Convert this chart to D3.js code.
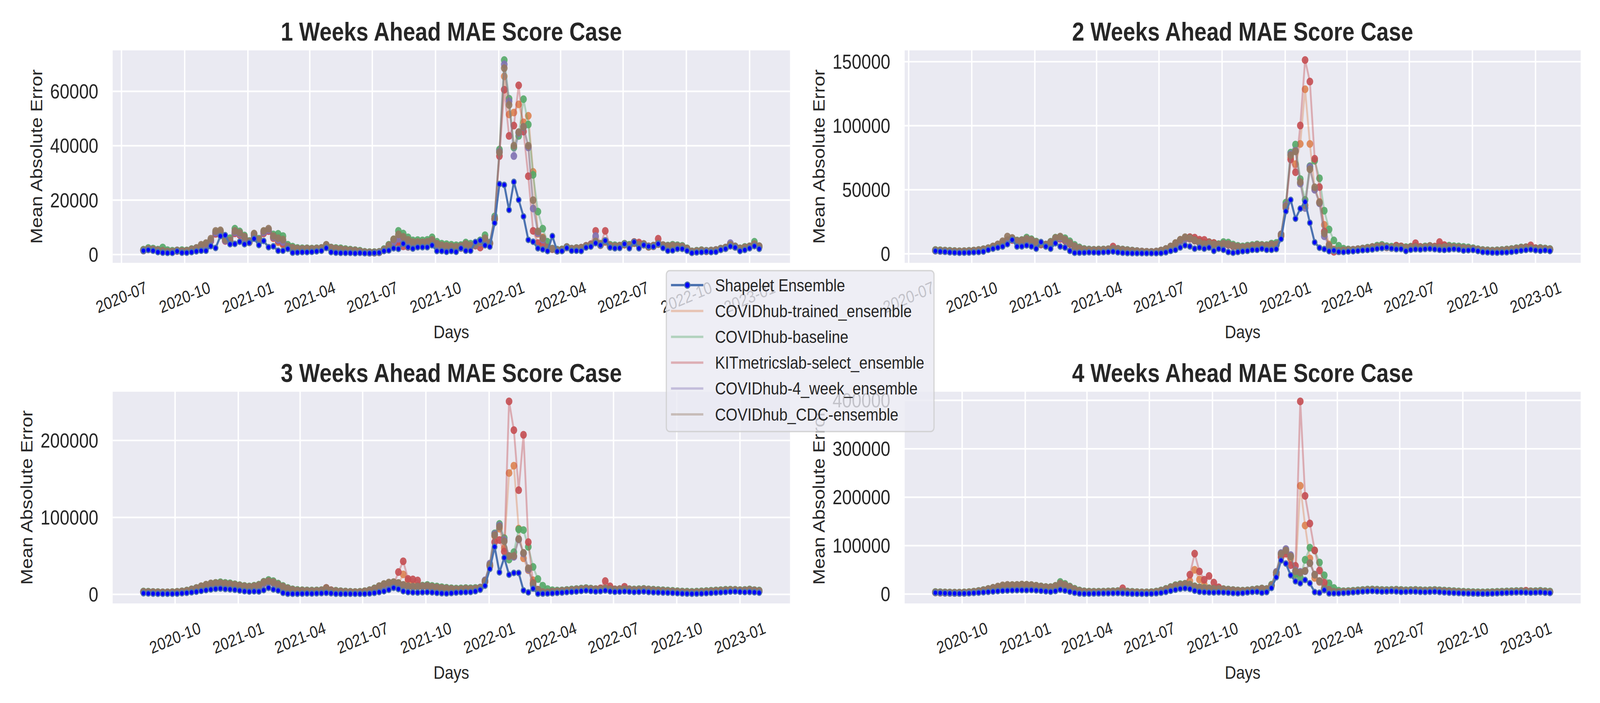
<!DOCTYPE html>
<html>
<head>
<meta charset="utf-8">
<script src="https://cdn.jsdelivr.net/npm/d3@7"></script>
<style>
  html, body { margin: 0; padding: 0; background: #fff; overflow: hidden; }
  svg { display: block; font-family: "Liberation Sans", Arial, sans-serif; }
</style>
</head>
<body>
<svg id="chart"></svg>
<script>
// --- 0. Data: weekly MAE per model, values in thousands of cases ---
const seriesNames = [
  "Shapelet Ensemble",
  "COVIDhub-trained_ensemble",
  "COVIDhub-baseline",
  "KITmetricslab-select_ensemble",
  "COVIDhub-4_week_ensemble",
  "COVIDhub_CDC-ensemble",
];
const panelTitles = [
  "1 Weeks Ahead MAE Score Case",
  "2 Weeks Ahead MAE Score Case",
  "3 Weeks Ahead MAE Score Case",
  "4 Weeks Ahead MAE Score Case",
];
// first target week of each horizon (one point per week after that)
const panelStarts = ["2020-08-02", "2020-08-09", "2020-08-16", "2020-08-23"];
const quarterTicks = [
  "2020-07-01", "2020-10-01", "2021-01-01", "2021-04-01", "2021-07-01", "2021-10-01",
  "2022-01-01", "2022-04-01", "2022-07-01", "2022-10-01", "2023-01-01",
];
const yTicks1 = [0, 20000, 40000, 60000];
const yTicks2 = [0, 50000, 100000, 150000];
const yTicks3 = [0, 100000, 200000];
const yTicks4 = [0, 100000, 200000, 300000, 400000];

// 1 week ahead
const h1Shapelet = [
  1.4,1.7,1.4,0.9,0.7,0.6,0.6,1.2,0.7,0.7,
  0.9,1.2,1.4,1.4,3.1,2.4,6.8,7.1,3.8,3.9,
  4.7,3.8,4.3,5.8,3.5,5.0,2.7,3.0,1.4,1.4,
  2.1,0.7,0.8,0.9,0.9,1.0,1.2,1.4,2.4,0.9,
  0.7,0.6,0.6,0.6,0.5,0.6,0.5,0.5,0.6,0.7,
  1.3,1.5,2.3,2.1,4.0,2.7,2.2,2.7,2.7,2.7,
  3.4,1.3,1.3,1.0,1.3,1.0,2.3,1.4,1.4,4.6,
  5.2,3.4,2.9,11.6,25.9,25.6,16.4,26.7,20.1,14.0,
  5.4,4.7,2.3,1.9,1.3,6.8,1.2,1.3,2.4,1.4,
  1.4,1.3,2.6,2.9,4.2,3.4,5.1,2.6,2.3,2.4,
  3.9,2.3,4.6,2.3,3.5,3.0,2.9,3.9,2.4,1.4,
  1.5,2.1,2.1,1.4,0.6,0.8,0.9,1.1,0.9,1.0,
  1.7,2.1,3.0,2.6,1.3,1.7,2.3,3.1,2.1,
];
const h1Trained = [
  1.6,2.0,1.8,1.5,1.2,1.0,1.1,1.4,1.3,1.4,
  1.8,2.2,3.0,3.6,5.0,7.8,8.0,5.2,5.0,8.0,
  7.5,6.2,4.6,7.2,5.2,8.0,8.8,6.0,4.5,3.6,
  2.6,2.0,1.8,1.8,1.9,1.8,2.0,2.1,3.0,2.2,
  1.9,1.7,1.5,1.3,1.2,1.0,0.8,0.7,0.8,0.9,
  1.6,2.8,4.3,4.8,5.0,4.5,4.0,4.2,4.3,4.5,
  5.0,3.6,3.0,2.7,2.6,2.4,2.6,3.5,3.2,3.3,
  4.6,5.2,4.2,13.0,38.0,65.5,51.5,52.2,55.2,48.6,
  51.0,30.4,7.6,6.3,2.6,2.0,1.4,1.6,2.6,2.0,
  2.2,2.3,3.0,3.4,4.6,3.4,4.6,2.8,3.0,3.0,
  3.6,3.2,4.2,3.4,3.6,2.8,3.0,3.8,3.2,3.0,
  3.2,3.0,2.8,2.0,0.9,1.1,1.3,1.2,1.3,1.5,
  2.0,2.4,3.4,2.8,2.0,2.4,3.0,3.6,2.8,
];
const h1Baseline = [
  1.8,2.4,2.2,1.8,2.6,1.6,1.4,1.5,1.6,1.5,
  2.0,2.4,3.2,3.9,5.2,8.2,8.5,6.0,6.0,9.5,
  8.5,7.0,5.0,7.5,5.8,8.5,9.0,7.4,7.6,6.8,
  3.6,2.9,2.4,2.3,2.3,2.2,2.3,2.4,3.4,2.6,
  2.4,2.3,2.0,1.8,1.6,1.4,1.0,0.9,0.9,1.0,
  2.0,3.6,5.5,8.7,7.7,6.3,5.2,5.3,5.2,5.4,
  6.3,4.7,4.0,3.8,3.6,3.4,3.5,4.4,4.0,4.2,
  5.2,7.1,4.4,14.0,38.6,71.5,57.3,39.3,43.6,57.1,
  47.8,29.3,15.8,9.5,4.7,2.2,1.8,1.9,2.8,2.2,
  2.4,2.5,3.2,3.6,4.6,4.0,5.0,3.6,3.4,3.3,
  4.0,3.6,4.6,3.8,3.9,3.0,3.3,4.0,3.5,3.3,
  3.6,3.4,3.2,2.3,1.2,1.4,1.6,1.4,1.5,1.7,
  2.2,2.6,3.6,3.0,2.3,2.8,3.0,4.7,3.1,
];
const h1Kit = [
  1.5,1.9,1.7,1.4,1.3,1.0,1.0,1.3,1.2,1.3,
  1.7,2.1,2.9,3.4,5.0,7.6,7.8,5.0,4.8,7.8,
  7.2,6.0,4.5,7.0,5.0,7.8,8.6,6.2,5.0,4.0,
  2.8,2.1,1.9,1.8,2.0,1.9,2.0,2.2,3.1,2.3,
  2.0,1.8,1.6,1.4,1.2,1.0,0.8,0.7,0.7,0.8,
  1.6,2.6,3.8,4.4,3.0,2.8,3.6,4.0,4.2,4.3,
  4.8,3.4,3.0,2.6,2.4,2.3,2.4,3.3,3.0,3.3,
  2.6,4.6,4.0,13.0,36.2,60.6,43.6,47.4,62.2,45.2,
  28.8,8.7,4.2,3.7,2.3,2.0,1.5,1.7,2.7,2.1,
  2.3,2.5,3.2,3.8,8.7,3.6,8.7,3.2,3.0,3.2,
  3.8,3.3,4.6,4.4,3.8,3.0,3.2,5.8,3.4,3.1,
  3.3,3.1,2.9,2.1,1.0,1.2,1.4,1.3,1.4,1.6,
  2.1,2.5,3.5,2.9,2.2,2.6,2.9,3.8,3.0,
];
const h1FourWeek = [
  1.5,2.0,1.8,1.5,1.3,1.0,1.0,1.4,1.2,1.3,
  1.8,2.2,3.0,3.5,5.2,8.0,8.2,5.2,5.0,8.2,
  7.6,6.3,4.7,7.3,5.3,8.2,9.0,6.4,5.4,4.6,
  2.8,2.2,2.0,1.9,2.0,1.9,2.1,2.2,3.2,2.3,
  2.0,1.8,1.6,1.4,1.3,1.1,0.8,0.7,0.7,0.9,
  1.7,2.9,4.6,5.8,5.2,4.6,4.1,4.2,4.3,4.5,
  5.0,3.7,3.1,2.9,2.7,2.6,2.8,3.6,3.3,3.4,
  4.4,5.4,4.2,13.4,37.8,69.9,56.3,36.2,44.7,46.8,
  39.4,16.9,7.9,5.5,2.4,2.1,1.5,1.7,2.7,2.1,
  2.3,2.4,3.1,3.6,6.8,3.5,5.0,3.0,3.1,3.1,
  3.7,3.3,4.3,3.5,3.7,2.9,3.1,3.9,3.3,3.1,
  3.3,3.1,2.9,2.1,1.0,1.2,1.4,1.3,1.4,1.6,
  2.1,2.5,4.2,2.9,2.1,2.5,2.9,3.7,2.9,
];
const h1Cdc = [
  1.6,2.1,1.9,1.6,1.4,1.1,1.1,1.5,1.3,1.4,
  1.9,2.4,3.6,4.2,5.8,8.7,8.9,5.5,5.2,8.7,
  8.0,6.6,4.8,7.7,5.5,8.7,9.5,6.8,6.0,5.5,
  3.0,2.5,2.2,2.1,2.2,2.1,2.2,2.4,3.6,2.5,
  2.2,2.0,1.8,1.6,1.5,1.2,0.9,0.8,0.8,0.9,
  1.8,3.4,5.6,7.4,6.5,5.4,4.6,4.6,4.5,4.7,
  5.4,4.0,3.4,3.2,3.0,2.9,3.1,3.9,3.4,3.6,
  4.8,6.0,4.0,13.2,37.5,68.5,55.0,40.0,45.0,47.0,
  40.0,20.0,8.5,6.0,2.6,2.1,1.6,1.8,2.7,2.1,
  2.3,2.4,3.1,3.5,4.8,3.6,4.8,3.1,3.1,3.1,
  3.7,3.3,4.2,3.6,3.7,2.9,3.1,3.9,3.3,3.1,
  3.3,3.1,2.9,2.2,1.1,1.3,1.5,1.3,1.4,1.6,
  2.1,2.5,3.6,2.9,2.2,2.6,2.9,3.8,3.0,
];

// 2 weeks ahead
const h2Shapelet = [
  2.2,1.8,1.6,1.2,1.0,0.8,0.9,1.0,1.2,1.4,
  1.8,3.1,4.0,4.9,5.7,7.5,10.9,5.7,5.8,6.6,
  5.8,4.0,9.2,5.7,4.0,8.3,5.7,4.9,2.3,0.8,
  0.9,1.0,1.2,1.1,1.0,1.3,1.5,1.8,1.2,0.8,
  0.6,0.5,0.5,0.5,0.5,0.5,0.5,0.6,1.2,2.3,
  3.1,4.9,6.6,5.8,4.0,4.9,4.0,4.9,2.3,4.0,
  3.1,1.4,0.8,1.4,2.0,2.3,3.1,3.1,4.0,3.1,
  3.1,3.7,11.6,33.2,42.1,27.4,35.3,40.5,24.2,9.0,
  4.7,3.7,2.1,2.6,1.6,1.4,1.8,2.0,2.4,2.8,
  3.0,3.4,4.0,4.4,5.0,4.2,3.6,3.8,2.2,3.2,
  3.6,3.4,3.8,4.0,3.6,3.2,3.0,3.4,3.8,3.4,
  2.6,2.8,3.0,2.2,1.4,1.2,1.0,0.9,1.1,1.2,
  1.6,2.0,2.6,3.0,3.4,2.8,2.4,2.8,2.2,
];
const h2Trained = [
  2.6,2.4,2.2,2.0,1.8,1.7,1.8,2.0,2.3,2.7,
  3.2,4.0,5.2,6.6,8.4,10.2,11.0,9.6,9.8,10.8,
  10.0,8.6,7.4,6.8,8.6,11.2,11.8,10.4,8.0,5.6,
  4.0,3.2,2.9,2.8,2.9,3.0,3.2,3.8,3.5,3.0,
  2.6,2.2,1.9,1.6,1.4,1.3,1.6,2.4,3.4,5.0,
  7.4,9.8,11.4,11.6,10.2,8.4,7.2,7.8,7.0,6.4,
  7.6,7.2,6.0,5.2,4.8,5.4,5.8,6.4,6.2,6.0,
  7.0,7.5,15.0,38.5,75.3,70.0,85.8,128.5,85.8,50.5,
  40.5,22.6,7.4,3.5,2.4,2.6,2.8,3.0,3.4,3.8,
  4.2,4.8,5.4,5.8,5.0,4.6,5.2,4.8,4.4,4.6,
  5.0,4.6,5.0,5.4,4.8,4.6,5.0,5.4,5.0,4.8,
  4.4,4.0,3.6,3.0,2.4,2.2,2.0,2.2,2.4,2.8,
  3.2,3.8,4.2,4.4,4.0,3.6,3.8,3.4,3.0,
];
const h2Baseline = [
  3.0,2.8,2.6,2.4,2.2,2.0,2.1,2.3,2.6,3.0,
  3.6,4.4,5.6,7.0,8.8,10.6,12.0,10.4,10.8,12.7,
  11.4,9.6,8.0,7.2,9.4,12.6,13.0,12.2,9.8,7.0,
  5.0,3.8,3.4,3.2,3.3,3.4,3.6,4.2,3.9,3.4,
  3.0,2.6,2.2,1.8,1.6,1.5,1.8,2.6,3.8,5.6,
  8.2,10.8,12.4,12.8,11.0,9.8,8.6,9.2,8.4,7.6,
  9.2,8.8,7.2,6.2,5.8,6.4,6.8,7.4,7.0,6.8,
  8.0,8.5,14.5,40.0,79.0,85.3,58.4,42.1,68.4,72.7,
  59.0,33.7,19.0,10.5,6.3,4.0,3.4,3.2,3.6,4.2,
  4.8,5.4,6.4,7.0,6.0,5.6,6.2,5.8,5.2,5.6,
  6.0,5.4,5.8,6.2,5.6,5.4,6.0,6.4,6.0,5.8,
  5.4,5.0,4.4,3.6,3.0,2.8,2.6,2.8,3.0,3.4,
  3.8,4.4,5.0,5.2,4.8,4.4,4.6,4.2,3.8,
];
const h2Kit = [
  2.5,2.3,2.1,1.9,1.8,1.6,1.7,1.9,2.2,2.6,
  3.1,3.9,5.0,6.4,8.2,10.0,10.8,9.4,9.6,10.6,
  9.8,8.4,7.2,6.6,8.4,11.0,11.6,10.2,7.8,5.4,
  3.8,3.1,2.8,2.7,2.8,3.0,3.4,5.7,3.6,3.0,
  2.6,2.2,1.9,1.6,1.4,1.3,1.6,2.4,3.4,5.2,
  7.8,10.4,12.0,13.0,12.6,11.0,10.9,9.0,8.4,7.0,
  7.4,7.0,5.8,5.0,4.6,5.2,5.6,6.2,6.0,5.8,
  6.8,7.0,14.0,35.8,73.7,63.7,100.2,151.3,134.5,74.2,
  52.1,17.4,5.8,1.6,2.0,2.4,2.8,3.0,3.4,3.8,
  4.4,5.2,5.6,6.0,5.2,4.8,6.4,5.8,4.6,5.2,
  8.3,5.4,5.2,6.0,5.6,9.2,6.8,5.6,5.0,4.8,
  4.4,4.2,3.8,3.2,2.6,2.4,2.2,2.4,2.6,3.0,
  3.4,4.0,4.6,5.0,6.6,4.4,4.2,3.8,3.4,
];
const h2FourWeek = [
  2.6,2.4,2.2,2.0,1.8,1.7,1.8,2.0,2.3,2.7,
  3.3,4.1,5.3,6.7,8.5,10.4,11.4,9.9,10.2,11.2,
  10.3,8.9,7.6,7.0,8.8,11.6,12.2,10.8,8.4,5.9,
  4.2,3.3,3.0,2.9,3.0,3.1,3.3,3.9,3.6,3.1,
  2.7,2.3,2.0,1.7,1.5,1.4,1.7,2.5,3.5,5.2,
  7.6,10.0,11.8,12.0,10.4,8.6,7.4,8.0,7.2,6.6,
  7.8,7.4,6.2,5.4,5.0,5.6,6.0,6.6,6.4,6.2,
  7.2,7.2,15.3,37.9,77.9,80.5,54.8,35.8,67.9,50.0,
  39.5,13.7,5.8,2.8,2.2,2.7,2.9,3.1,3.5,3.9,
  4.3,4.9,5.5,6.0,5.1,4.7,5.3,4.9,4.5,4.7,
  5.1,4.7,5.1,5.5,4.9,4.7,5.1,5.5,5.1,4.9,
  4.5,4.1,3.7,3.1,2.5,2.3,2.1,2.3,2.5,2.9,
  3.3,3.9,4.3,4.5,4.1,3.7,3.9,3.5,3.1,
];
const h2Cdc = [
  2.8,2.6,2.4,2.2,2.0,1.9,2.0,2.2,2.5,2.9,
  3.5,4.4,5.8,7.4,9.8,13.5,12.4,10.2,10.6,11.8,
  10.8,9.2,7.8,7.2,9.2,12.4,13.5,11.2,8.6,6.0,
  4.4,3.4,3.1,3.0,3.1,3.2,3.4,4.0,3.7,3.2,
  2.8,2.4,2.1,1.8,1.6,1.5,1.8,2.6,3.8,5.8,
  8.4,11.0,13.0,12.4,10.6,8.8,7.6,8.2,7.4,6.8,
  8.0,7.6,6.4,5.6,5.2,5.8,6.2,6.8,6.6,6.4,
  7.4,7.0,15.0,37.0,77.0,80.0,56.0,38.0,66.0,52.0,
  40.0,16.0,6.5,3.0,2.4,2.8,3.0,3.2,3.6,4.0,
  4.4,5.0,5.6,6.2,5.3,4.9,5.5,5.1,4.7,4.9,
  5.3,4.9,5.3,5.7,5.1,4.9,5.3,5.7,5.3,5.1,
  4.7,4.3,3.9,3.3,2.7,2.5,2.3,2.5,2.7,3.1,
  3.5,4.1,4.5,4.7,4.3,3.9,4.1,3.7,3.3,
];

// 3 weeks ahead
const h3Shapelet = [
  1.5,1.2,1.0,0.8,0.8,0.8,0.8,1.0,1.5,2.0,
  2.8,3.5,4.5,5.5,6.4,7.2,7.6,7.0,6.6,6.0,
  5.0,4.1,3.6,4.0,3.8,5.5,8.5,6.4,5.0,2.0,
  0.9,0.8,0.9,1.0,1.2,1.1,1.4,1.6,2.0,1.5,
  0.9,0.8,0.8,0.8,0.8,0.8,0.9,1.2,2.0,3.0,
  4.1,6.0,8.5,7.0,4.2,3.0,2.6,2.4,2.8,3.0,
  2.6,2.0,1.5,1.2,1.8,2.4,2.8,3.0,3.2,4.1,
  6.1,11.3,33.1,61.8,28.7,47.6,25.6,27.9,27.9,5.2,
  2.6,7.5,0.9,1.0,1.2,1.5,2.0,2.4,3.0,3.4,
  3.8,4.4,5.0,4.4,3.8,4.2,5.0,4.0,3.4,3.6,
  4.0,3.6,3.2,3.4,3.8,3.2,2.8,2.6,2.4,2.2,
  2.0,1.6,1.2,1.0,0.9,1.0,1.2,1.6,2.0,2.4,
  2.8,3.2,3.6,3.8,3.4,3.0,3.2,2.8,2.2,
];
const h3Trained = [
  3.2,3.0,2.8,2.6,2.4,2.4,2.6,3.0,3.6,4.4,
  5.8,7.4,9.2,11.0,12.4,13.4,14.0,13.2,12.6,11.6,
  10.6,9.8,9.2,9.8,11.0,14.4,16.4,15.0,12.2,9.4,
  7.0,5.6,4.8,4.6,4.4,4.2,4.4,4.8,5.2,4.6,
  4.0,3.6,3.2,2.9,2.7,2.9,3.6,4.8,6.6,9.0,
  11.4,12.4,12.0,14.0,26.0,18.0,13.0,11.0,10.4,10.6,
  9.6,8.8,8.0,7.4,6.8,6.4,6.6,7.0,6.8,7.2,
  8.5,17.0,37.5,75.8,85.4,60.1,157.7,167.2,85.4,47.0,
  31.4,18.3,6.1,3.0,2.6,3.6,4.0,4.4,5.0,5.6,
  6.2,6.8,7.4,6.8,6.2,6.6,7.4,6.4,5.8,6.2,
  6.6,6.0,5.6,6.0,6.4,5.8,5.4,5.0,4.6,4.2,
  3.8,3.4,3.0,2.8,2.6,2.8,3.2,3.6,4.0,4.4,
  4.8,5.2,5.4,5.2,4.8,5.0,5.6,4.8,4.2,
];
const h3Baseline = [
  3.8,3.5,3.2,3.0,2.8,2.8,3.0,3.4,4.0,5.0,
  6.6,8.4,10.4,12.4,13.8,15.0,15.8,15.0,14.4,13.2,
  12.0,11.0,10.4,11.2,12.6,16.4,18.7,17.2,14.0,11.0,
  8.4,6.6,5.8,5.4,5.2,5.0,5.2,5.6,6.0,5.4,
  4.8,4.2,3.8,3.4,3.2,3.4,4.2,5.6,7.8,10.6,
  13.0,14.6,15.4,14.4,12.0,10.6,10.0,10.4,11.4,12.3,
  11.0,10.2,9.4,8.6,8.0,7.6,7.8,8.2,8.0,8.4,
  9.0,17.5,38.0,79.3,91.5,73.2,45.3,54.9,84.5,83.6,
  61.8,35.7,20.0,11.3,7.0,5.4,5.0,5.2,5.8,6.4,
  7.0,7.6,8.2,7.6,7.0,7.4,8.0,7.2,6.6,7.0,
  7.4,6.8,6.4,6.8,7.2,6.6,6.2,5.8,5.4,5.0,
  4.6,4.2,3.8,3.6,3.4,3.6,4.0,4.4,4.8,5.2,
  5.6,6.0,6.2,6.0,5.6,5.8,6.4,5.6,5.0,
];
const h3Kit = [
  3.0,2.8,2.6,2.4,2.3,2.3,2.5,2.9,3.5,4.3,
  5.6,7.2,9.0,10.8,12.2,13.2,13.8,13.0,12.4,11.4,
  10.4,9.6,9.0,9.6,10.8,14.2,16.2,14.8,12.0,9.2,
  6.8,5.4,4.6,4.4,4.2,4.0,4.2,5.0,8.5,5.4,
  4.0,3.4,3.0,2.8,2.6,2.8,3.4,4.6,6.4,8.8,
  11.0,12.0,12.6,29.0,43.0,20.2,19.5,18.1,10.5,10.0,
  9.2,8.4,7.6,7.0,6.4,6.0,6.2,6.6,6.4,6.8,
  8.5,16.5,36.6,67.9,70.6,55.7,250.8,213.4,135.4,207.3,
  67.9,14.8,6.1,2.6,2.4,3.4,3.8,4.4,5.0,5.6,
  6.2,6.8,7.4,7.0,6.6,7.8,17.3,10.5,6.4,6.8,
  9.9,6.4,5.8,6.0,6.6,6.0,5.4,5.0,4.6,4.2,
  3.8,3.4,3.0,2.8,2.6,2.8,3.2,3.6,4.0,4.4,
  4.8,5.2,5.6,5.4,5.0,5.2,5.8,5.0,4.4,
];
const h3FourWeek = [
  3.1,2.9,2.7,2.5,2.3,2.3,2.5,2.9,3.5,4.3,
  5.7,7.3,9.1,10.9,12.3,13.3,13.9,13.1,12.5,11.5,
  10.5,9.7,9.1,9.7,10.9,14.3,16.3,14.9,12.1,9.3,
  6.9,5.5,4.7,4.5,4.3,4.1,4.3,4.7,5.1,4.5,
  3.9,3.5,3.1,2.8,2.6,2.8,3.5,4.7,6.5,8.9,
  11.2,12.4,13.6,13.0,11.6,10.2,9.6,9.8,10.4,10.8,
  9.4,8.6,7.8,7.2,6.6,6.2,6.4,6.8,6.6,7.0,
  8.7,18.3,40.0,78.4,89.7,70.6,49.6,48.8,71.4,53.1,
  32.6,12.0,5.5,2.8,2.5,3.5,3.9,4.3,4.9,5.5,
  6.1,6.7,7.3,6.7,6.1,6.5,7.3,6.3,5.7,6.1,
  6.5,5.9,5.5,5.9,6.3,5.7,5.3,4.9,4.5,4.1,
  3.7,3.3,2.9,2.7,2.5,2.7,3.1,3.5,3.9,4.3,
  4.7,5.1,5.3,5.1,4.7,4.9,5.5,4.7,4.1,
];
const h3Cdc = [
  3.4,3.2,3.0,2.8,2.6,2.6,2.8,3.2,3.8,4.8,
  6.4,8.2,10.6,12.6,14.3,14.8,15.0,14.2,13.6,12.6,
  11.6,10.6,10.0,10.8,12.2,16.0,17.3,16.0,13.0,10.2,
  7.8,6.0,5.2,5.0,4.8,4.6,4.8,5.2,8.4,5.0,
  4.4,3.9,3.5,3.2,3.0,3.2,4.0,5.4,7.6,10.8,
  13.6,15.4,16.0,14.8,12.4,10.8,10.0,10.2,10.8,11.2,
  10.0,9.2,8.4,7.8,7.2,6.8,7.0,7.4,7.2,7.6,
  8.5,17.5,38.5,77.0,88.0,69.0,50.0,50.0,72.0,54.0,
  34.0,14.0,6.0,3.0,2.6,3.8,4.2,4.6,5.2,5.8,
  6.4,7.0,7.6,7.0,6.4,6.8,7.6,6.6,6.0,6.4,
  6.8,6.2,5.8,6.2,6.6,6.0,5.6,5.2,4.8,4.4,
  4.0,3.6,3.2,3.0,2.8,3.0,3.4,3.8,4.2,4.6,
  5.0,5.4,5.6,5.4,5.0,5.2,5.8,5.0,4.4,
];

// 4 weeks ahead
const h4Shapelet = [
  2.8,2.4,2.0,1.6,1.4,1.2,1.4,1.8,2.4,3.0,
  3.8,4.6,5.4,6.2,7.0,7.4,7.8,8.0,8.2,8.0,
  8.3,7.6,6.8,5.8,5.0,6.4,9.0,7.2,5.0,2.8,
  1.2,0.8,0.9,1.2,1.4,1.6,1.8,2.0,2.2,1.8,
  1.2,0.8,0.6,0.6,0.6,0.9,1.6,2.8,4.6,6.8,
  9.0,11.0,12.0,10.5,7.0,5.0,4.2,3.6,3.4,3.8,
  3.6,3.0,2.2,1.8,2.4,3.6,4.6,5.0,2.8,4.2,
  12.5,34.7,69.4,63.0,38.9,26.4,22.2,29.2,22.2,4.2,
  2.8,8.3,1.4,1.6,1.8,2.4,3.0,3.8,4.6,5.4,
  6.0,6.4,5.8,5.2,5.6,6.2,5.4,4.6,5.0,5.6,
  5.2,4.6,4.4,4.8,5.2,4.4,3.6,3.0,2.6,2.2,
  1.8,1.4,1.2,1.0,0.9,1.0,1.3,1.8,2.4,2.8,
  3.2,3.6,3.8,3.4,3.0,3.4,3.8,3.0,2.4,
];
const h4Trained = [
  3.6,3.2,2.9,2.7,2.6,2.6,2.9,3.4,4.4,5.6,
  7.4,9.4,11.4,13.2,14.6,15.6,16.2,16.6,16.8,16.6,
  16.0,15.0,13.8,12.8,12.6,15.0,21.6,18.0,13.4,9.2,
  6.2,4.8,4.2,4.0,4.0,4.2,4.6,5.0,5.4,5.0,
  4.4,3.8,3.4,3.0,3.0,3.4,4.4,6.4,9.2,12.6,
  15.8,17.6,18.0,27.0,50.0,30.0,20.0,12.0,10.6,10.0,
  9.0,8.2,7.4,6.6,6.2,6.8,7.8,9.0,11.0,10.0,
  18.0,44.0,81.0,88.0,73.6,40.3,223.6,141.7,73.6,33.3,
  25.0,12.0,8.3,5.0,4.4,4.8,5.2,5.8,6.6,7.4,
  8.2,8.4,8.0,7.4,7.2,7.6,8.0,7.4,6.8,7.2,
  7.6,7.0,6.6,7.0,7.4,6.8,6.2,5.6,5.0,4.4,
  3.8,3.4,3.0,2.8,2.6,2.8,3.2,3.6,4.0,4.4,
  4.8,5.2,5.4,5.2,4.8,5.0,5.6,4.8,4.2,
];
const h4Baseline = [
  4.4,4.0,3.6,3.4,3.2,3.2,3.6,4.2,5.2,6.6,
  8.4,10.6,12.8,14.8,16.4,17.6,18.4,18.8,19.2,19.0,
  18.4,17.2,15.8,14.6,14.4,17.0,25.0,21.0,15.6,11.0,
  7.6,5.8,5.2,5.0,5.0,5.2,5.6,6.0,6.4,6.0,
  5.4,4.8,4.2,3.8,3.8,4.2,5.4,7.6,10.8,14.6,
  18.4,20.4,21.2,19.4,16.0,13.8,12.6,12.0,11.8,11.4,
  10.4,9.4,8.4,7.6,7.2,7.8,9.0,10.2,11.5,10.5,
  19.4,44.5,83.3,90.5,78.0,41.7,34.7,70.8,95.8,90.0,
  65.3,38.9,22.2,12.5,7.0,6.0,6.4,7.0,7.8,8.6,
  9.4,9.6,9.2,8.6,8.4,8.8,9.2,8.6,8.0,8.4,
  8.8,8.2,7.8,8.2,8.6,8.0,7.4,6.8,6.2,5.6,
  5.0,4.6,4.2,4.0,3.8,4.0,4.4,4.8,5.2,5.6,
  6.0,6.4,6.6,6.4,6.0,6.2,6.8,6.0,5.4,
];
const h4Kit = [
  3.4,3.0,2.7,2.5,2.4,2.4,2.7,3.2,4.2,5.4,
  7.2,9.2,11.2,13.0,14.4,15.4,16.0,16.4,16.6,16.4,
  15.8,14.8,13.6,12.6,12.4,14.8,21.4,17.8,13.2,9.0,
  6.0,4.6,4.0,3.8,3.8,4.0,4.4,4.8,5.2,12.0,
  4.2,3.6,3.2,2.8,2.8,3.2,4.2,6.2,9.0,12.4,
  15.6,17.4,18.6,40.0,83.6,46.7,29.6,37.4,23.6,14.0,
  9.6,8.4,7.4,6.4,6.0,6.6,7.6,8.8,11.0,9.5,
  17.0,40.3,76.4,83.3,59.7,58.3,398.0,202.8,145.8,90.3,
  48.6,23.6,8.5,4.5,4.0,4.6,5.0,5.6,6.4,7.2,
  8.0,8.2,7.8,7.2,7.0,7.4,7.8,7.2,6.6,7.0,
  7.4,6.8,6.4,6.8,7.2,6.6,6.0,5.4,4.8,4.2,
  3.6,3.2,2.8,2.6,2.4,2.6,3.0,3.4,3.8,4.2,
  4.6,5.0,5.6,7.0,5.2,4.8,5.4,4.6,4.0,
];
const h4FourWeek = [
  3.5,3.1,2.8,2.6,2.5,2.5,2.8,3.3,4.3,5.5,
  7.3,9.3,11.3,13.1,14.5,15.5,16.1,16.5,16.7,16.5,
  15.9,14.9,13.7,12.7,12.5,14.9,21.5,17.9,13.3,9.1,
  6.1,4.7,4.1,3.9,3.9,4.1,4.5,4.9,5.3,4.9,
  4.3,3.7,3.3,2.9,2.9,3.3,4.3,6.3,9.1,12.5,
  15.7,17.5,18.2,17.0,14.2,12.4,11.4,10.8,10.4,10.0,
  9.0,8.2,7.4,6.6,6.2,6.8,7.8,9.0,10.5,9.5,
  18.0,45.8,84.7,93.1,80.5,48.6,45.8,47.2,63.9,40.3,
  26.4,9.0,7.5,4.2,3.8,4.7,5.1,5.7,6.5,7.3,
  8.1,8.3,7.9,7.3,7.1,7.5,7.9,7.3,6.7,7.1,
  7.5,6.9,6.5,6.9,7.3,6.7,6.1,5.5,4.9,4.3,
  3.7,3.3,2.9,2.7,2.5,2.7,3.1,3.5,3.9,4.3,
  4.7,5.1,5.3,5.1,4.7,4.9,5.5,4.7,4.1,
];
const h4Cdc = [
  3.8,3.4,3.1,2.9,2.8,2.8,3.1,3.7,4.8,6.2,
  8.0,10.4,13.0,15.6,18.0,19.0,18.6,18.8,19.6,19.2,
  18.6,17.2,15.6,14.4,14.2,16.8,22.0,19.0,14.6,10.0,
  6.8,5.2,4.6,4.4,4.4,4.6,5.0,5.4,5.8,5.4,
  4.8,4.2,3.7,3.3,3.3,3.7,4.8,7.0,10.2,14.0,
  17.6,19.6,21.0,18.8,15.4,13.2,12.0,11.4,11.0,10.6,
  9.6,8.8,8.0,7.2,6.8,7.4,8.4,9.6,11.0,10.0,
  18.0,44.0,83.0,90.0,78.0,47.0,44.0,48.0,64.0,40.0,
  27.0,11.0,8.0,4.5,4.0,5.0,5.4,6.0,6.8,7.6,
  8.4,8.6,8.2,7.6,7.4,7.8,8.2,7.6,7.0,7.4,
  7.8,7.2,6.8,7.2,7.6,7.0,6.4,5.8,5.2,4.6,
  4.0,3.6,3.2,3.0,2.8,3.0,3.4,3.8,4.2,4.6,
  5.0,5.4,5.6,5.4,5.0,5.2,5.8,5.0,4.4,
];

// --- 1. Layout & styles (figure units: 4800 x 1800) ---
const W = 4800, H = 1800;
const axesBoxes = [
  { x: 338, y: 129, w: 2032, h: 544 },
  { x: 2714, y: 129, w: 2028, h: 544 },
  { x: 338, y: 1003, w: 2032, h: 542 },
  { x: 2714, y: 1003, w: 2028, h: 542 },
];
const colors = ["#4C72B0", "#DD8452", "#55A868", "#C44E52", "#8172B3", "#937860"];
const ink = "#262626";

const panels = [
  { title: panelTitles[0], start: panelStarts[0], yTicks: yTicks1,
    series: [h1Shapelet, h1Trained, h1Baseline, h1Kit, h1FourWeek, h1Cdc] },
  { title: panelTitles[1], start: panelStarts[1], yTicks: yTicks2,
    series: [h2Shapelet, h2Trained, h2Baseline, h2Kit, h2FourWeek, h2Cdc] },
  { title: panelTitles[2], start: panelStarts[2], yTicks: yTicks3,
    series: [h3Shapelet, h3Trained, h3Baseline, h3Kit, h3FourWeek, h3Cdc] },
  { title: panelTitles[3], start: panelStarts[3], yTicks: yTicks4,
    series: [h4Shapelet, h4Trained, h4Baseline, h4Kit, h4FourWeek, h4Cdc] },
];

const parseDay = d3.utcParse("%Y-%m-%d");
const fmtMonth = d3.utcFormat("%Y-%m");

// the window may be narrower than the figure, so fit the whole figure into it
const svg = d3.select("#chart")
  .attr("viewBox", `0 0 ${W} ${H}`)
  .attr("preserveAspectRatio", "none")
  .attr("width", window.innerWidth || W)
  .attr("height", window.innerHeight || H);
svg.append("rect").attr("width", W).attr("height", H).attr("fill", "#fff");

// --- 2. Panels ---
function drawPanel(p, box) {
  const g = svg.append("g").attr("transform", `translate(${box.x},${box.y})`);
  const start = parseDay(p.start);
  const dates = p.series[0].map((_, i) => d3.utcDay.offset(start, 7 * i));
  const t0 = +dates[0], t1 = +dates[dates.length - 1];
  const padT = (t1 - t0) * 0.05;
  const x = d3.scaleUtc().domain([new Date(t0 - padT), new Date(t1 + padT)]).range([0, box.w]);

  const [lo, hi] = d3.extent(p.series.flat().map((v) => v * 1000));
  const padV = (hi - lo) * 0.05;
  const y = d3.scaleLinear().domain([lo - padV, hi + padV]).range([box.h, 0]);

  g.append("rect").attr("width", box.w).attr("height", box.h).attr("fill", "#EAEAF2");

  const xTicks = quarterTicks.map(parseDay)
    .filter((d) => d >= x.domain()[0] && d <= x.domain()[1]);

  g.selectAll(".grid-x").data(xTicks).join("line")
    .attr("class", "grid-x")
    .attr("x1", (d) => x(d)).attr("x2", (d) => x(d))
    .attr("y1", 0).attr("y2", box.h)
    .attr("stroke", "#fff").attr("stroke-width", 4.2);
  g.selectAll(".grid-y").data(p.yTicks).join("line")
    .attr("class", "grid-y")
    .attr("x1", 0).attr("x2", box.w)
    .attr("y1", (d) => y(d)).attr("y2", (d) => y(d))
    .attr("stroke", "#fff").attr("stroke-width", 4.2);

  // other models: faint lines, solid dots
  const line = d3.line().x((d) => x(d[0])).y((d) => y(d[1] * 1000));
  p.series.slice(1).forEach((vals, k) => {
    const pts = vals.map((v, i) => [dates[i], v]);
    const c = colors[k + 1];
    g.append("path").datum(pts)
      .attr("d", line).attr("fill", "none")
      .attr("stroke", c).attr("stroke-opacity", 0.4)
      .attr("stroke-width", 5.5).attr("stroke-linejoin", "round");
    g.append("g").selectAll("circle").data(pts).join("circle")
      .attr("cx", (d) => x(d[0])).attr("cy", (d) => y(d[1] * 1000))
      .attr("r", 10).attr("fill", c).attr("fill-opacity", 0.9);
  });

  // Shapelet ensemble on top
  const sp = p.series[0].map((v, i) => [dates[i], v]);
  g.append("path").datum(sp)
    .attr("d", line).attr("fill", "none")
    .attr("stroke", colors[0]).attr("stroke-width", 6).attr("stroke-linejoin", "round");
  g.append("g").selectAll("circle").data(sp).join("circle")
    .attr("cx", (d) => x(d[0])).attr("cy", (d) => y(d[1] * 1000))
    .attr("r", 7).attr("fill", "#0000FF")
    .attr("stroke", colors[0]).attr("stroke-width", 3);

  // tick labels
  const yLabels = g.append("g").selectAll("text").data(p.yTicks).join("text")
    .attr("x", -43).attr("y", (d) => y(d))
    .attr("text-anchor", "end").attr("dominant-baseline", "central")
    .attr("font-size", 52).attr("fill", ink)
    .text((d) => d3.format("d")(d));

  g.append("g").selectAll("text").data(xTicks).join("text")
    .attr("transform", (d) => `translate(${x(d)},${box.h + 88}) rotate(-20)`)
    .attr("text-anchor", "middle").attr("dominant-baseline", "central")
    .attr("font-size", 43.5).attr("fill", ink)
    .text((d) => fmtMonth(d));

  // title and axis labels
  g.append("text")
    .attr("x", box.w / 2).attr("y", -25)
    .attr("text-anchor", "middle")
    .attr("font-size", 66).attr("font-weight", "bold").attr("fill", ink)
    .text(p.title);

  g.append("text")
    .attr("x", box.w / 2).attr("y", box.h + 193)
    .attr("text-anchor", "middle")
    .attr("font-size", 47).attr("fill", ink)
    .text("Days");

  let minX = 0;
  yLabels.each(function () { minX = Math.min(minX, this.getBBox().x); });
  g.append("text")
    .attr("transform", `translate(${minX - 24},${box.h / 2}) rotate(-90)`)
    .attr("text-anchor", "middle")
    .attr("font-size", 49).attr("fill", ink)
    .text("Mean Absolute Error");
}

panels.forEach((p, k) => drawPanel(p, axesBoxes[k]));

// --- 3. Figure legend ---
function drawLegend() {
  const lg = svg.append("g");
  lg.append("rect")
    .attr("x", 1999).attr("y", 693).attr("width", 803).attr("height", 412)
    .attr("rx", 10)
    .attr("fill", "#EAEAF2").attr("fill-opacity", 0.8)
    .attr("stroke", "#cccccc").attr("stroke-opacity", 0.8).attr("stroke-width", 3.5);

  const rows = lg.selectAll(".row").data(seriesNames).join("g")
    .attr("class", "row")
    .attr("transform", (d, i) => `translate(0,${730 + i * 66.2})`);

  rows.append("line")
    .attr("x1", 2013).attr("x2", 2110).attr("y1", 0).attr("y2", 0)
    .attr("stroke", (d, i) => colors[i])
    .attr("stroke-opacity", (d, i) => (i === 0 ? 1 : 0.4))
    .attr("stroke-width", 6);

  rows.filter((d, i) => i === 0).append("circle")
    .attr("cx", 2062).attr("cy", 0).attr("r", 8)
    .attr("fill", "#0000FF").attr("stroke", colors[0]).attr("stroke-width", 3);

  rows.append("text")
    .attr("x", 2145).attr("y", 0)
    .attr("dominant-baseline", "central")
    .attr("font-size", 45).attr("fill", ink)
    .text((d) => d);
}

drawLegend();
</script>
</body>
</html>
